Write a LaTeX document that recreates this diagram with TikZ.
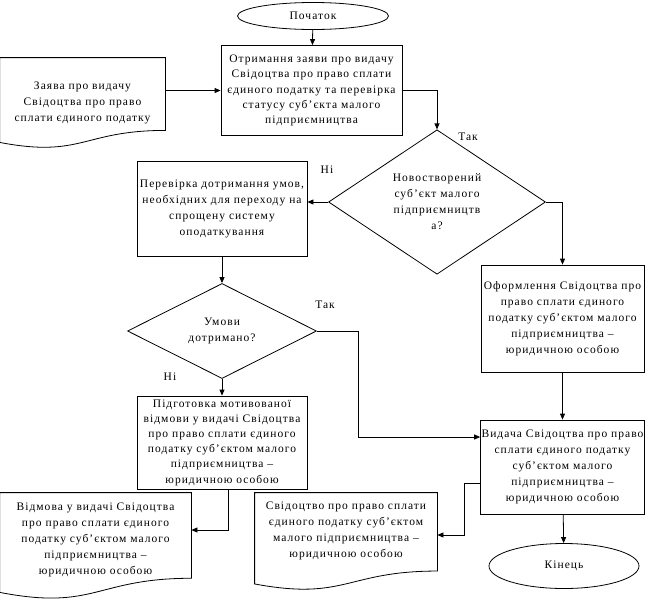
\documentclass[tikz,border=0pt]{standalone}
\usepackage{fontspec}
\setmainfont{Liberation Serif}[LetterSpace=9]
\usetikzlibrary{arrows.meta, shapes.geometric, calc}

% document outline round a node; #2 = how far the wavy edge reaches below the node
\newcommand{\docshape}[2]{%
  \draw let \p1=(#1.north west), \p2=(#1.south east) in
    (\x1,\y1) -- (\x2,\y1) -- (\x2,{\y1+0.802*(\y2-#2pt-\y1)})
    .. controls ({0.5*(\x1+\x2)},{\y1+0.802*(\y2-#2pt-\y1)}) and ({0.5*(\x1+\x2)},{\y1+1.108*(\y2-#2pt-\y1)})
    .. (\x1,{\y1+0.934*(\y2-#2pt-\y1)}) -- cycle;}

\tikzset{
  flowbox/.style={draw, rectangle, align=center, inner sep=1pt},
  flowdoc/.style={rectangle, align=center, inner sep=1pt},
  flowend/.style={draw, ellipse, inner sep=0pt},
  flowdec/.style={draw, diamond, align=center, inner sep=0pt},
  flowlab/.style={inner sep=0pt},
  tight/.style={font=\fontsize{11.5}{15.2}\selectfont},
  flowarr/.style={-{Triangle[length=6pt,width=5pt]}}
}

\begin{document}
\begin{tikzpicture}[x=1pt, y=-1pt, line width=0.8pt,
  every node/.style={font=\fontsize{11.5}{16}\selectfont}]
\useasboundingbox (0,0) rectangle (664,600);

\node[flowend, minimum width=151, minimum height=27] (start) at (313,16) {Початок};
\node[flowbox, tight, minimum width=181, minimum height=90] (recv) at (311.5,90.5)
  {Отримання заяви про видачу\\Свідоцтва про право сплати\\єдиного податку та перевірка\\статусу суб’єкта малого\\підприємництва};
\node[flowdoc, minimum width=165, minimum height=90] (app) at (82.5,103)
  {Заява про видачу\\Свідоцтва про право\\сплати єдиного податку};
\docshape{app}{0}

\node[flowdec, minimum width=217, minimum height=108] (isnew) at (437,202)
  {Новостворений\\суб’єкт малого\\підприємництв\\а?};
\node[flowbox, minimum width=170, minimum height=95] (check) at (222,208.5)
  {Перевірка дотримання умов,\\необхідних для переходу на\\спрощену систему\\оподаткування};
\node[flowbox, minimum width=163, minimum height=107] (form) at (562.5,318.5)
  {Оформлення Свідоцтва про\\право сплати єдиного\\податку суб’єктом малого\\підприємництва –\\юридичною особою};

\node[flowdec, minimum width=189, minimum height=95] (met) at (222,331)
  {Умови\\дотримано?};
\node[flowbox, tight, minimum width=170, minimum height=93] (motiv) at (222,442.5)
  {Підготовка мотивованої\\відмови у видачі Свідоцтва\\про право сплати єдиного\\податку суб’єктом малого\\підприємництва –\\юридичною особою};
\node[flowbox, minimum width=163, minimum height=94] (issue) at (562.5,467)
  {Видача Свідоцтва про право\\сплати єдиного податку\\суб’єктом малого\\підприємництва –\\юридичною особою};

\node[flowdoc, minimum width=191, minimum height=94] (refdoc) at (95.5,540)
  {Відмова у видачі Свідоцтва\\про право сплати єдиного\\податку суб’єктом малого\\підприємництва –\\юридичною особою};
\docshape{refdoc}{12}
\node[flowdoc, minimum width=182, minimum height=76] (cert) at (346,531)
  {Свідоцтво про право сплати\\єдиного податку суб’єктом\\малого підприємництва –\\юридичною особою};
\docshape{cert}{21}
\node[flowend, minimum width=150, minimum height=45] (stop) at (564,566) {Кінець};

% labels
\node[flowlab] (yes1) at (468,137) {Так};
\node[flowlab] (no1) at (327,170) {Ні};
\node[flowlab] (yes2) at (325,305) {Так};
\node[flowlab] (no2) at (170,377) {Ні};

\coordinate (bend1) at (358,437);
\coordinate (bend2) at (464,483);
\coordinate (bend3) at (228,530);
\coordinate (bend4) at (464,535);

% connectors
\draw[flowarr] (start) -- (recv);
\draw[flowarr] (app.east |- recv.west) -- (recv.west);
\draw[flowarr] (recv.east) -| (isnew.north);
\draw[flowarr] (isnew.west) -- (isnew.west -| check.east);
\draw[flowarr] (isnew.east) -| (form.north);
\draw[flowarr] (check) -- (met);
\draw[flowarr] (met.east) -| (bend1) -- (bend1 -| issue.west);
\draw[flowarr] (met) -- (motiv);
\draw[flowarr] (form) -- (issue);
\draw[flowarr] (bend3 |- motiv.south) -- (bend3) -- (bend3 -| refdoc.east);
\draw[flowarr] (bend2 -| issue.west) -- (bend2) -- (bend4) -- (bend4 -| cert.east);
\draw[flowarr] (issue) -- (stop);
\end{tikzpicture}
\end{document}
